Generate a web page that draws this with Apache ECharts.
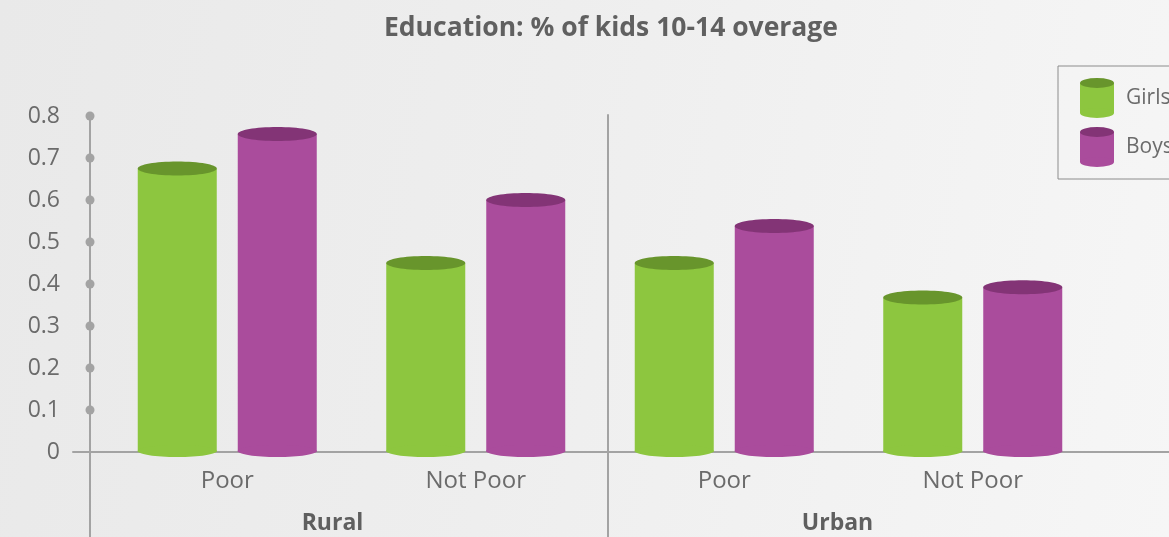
<!DOCTYPE html>
<html><head><meta charset="utf-8">
<script src="https://cdn.jsdelivr.net/npm/echarts@6/dist/echarts.min.js"></script>
<style>
html,body{margin:0;padding:0;}
#c{width:1169px;height:537px;background:linear-gradient(100deg,#e9e9e9 0%,#eeeeee 45%,#f6f6f6 100%);}
</style>
</head><body><div id="c"></div>
<script>
const chartTitle = 'Education: % of kids 10-14 overage';
const categories = ['Poor', 'Not Poor', 'Poor', 'Not Poor'];
const groups = ['Rural', 'Urban'];
const seriesNames = ['Girls', 'Boys'];
const girls = [0.675, 0.45, 0.45, 0.368];
const boys = [0.757, 0.60, 0.538, 0.392];
const yTicks = [0, 0.1, 0.2, 0.3, 0.4, 0.5, 0.6, 0.7, 0.8];

const palette = {
  Girls: { body: '#8dc63f', top: '#68952c' },
  Boys: { body: '#aa4c9c', top: '#833476' }
};
const axisGray = '#a3a3a3';
const textGray = '#6b6b6b';

function iconFor(name) {
  const c = palette[name];
  const s = '<svg xmlns="http://www.w3.org/2000/svg" width="34" height="40" viewBox="0 0 34 40">' +
    '<rect x="0" y="5" width="34" height="30" fill="' + c.body + '"/>' +
    '<ellipse cx="17" cy="35" rx="17" ry="5" fill="' + c.body + '"/>' +
    '<ellipse cx="17" cy="5" rx="17" ry="5" fill="' + c.top + '"/></svg>';
  return 'image://data:image/svg+xml;charset=utf-8,' + encodeURIComponent(s);
}

function cylinder(name, offset) {
  const c = palette[name];
  return function (params, api) {
    const idx = api.value(0), v = api.value(1);
    const top = api.coord([idx, v]);
    const base = api.coord([idx, 0]);
    const w = 79, ry = 7;
    const cx = top[0] + offset;
    return {
      type: 'group',
      children: [
        { type: 'rect', shape: { x: cx - w / 2, y: top[1], width: w, height: base[1] - top[1] }, style: { fill: c.body } },
        { type: 'ellipse', shape: { cx: cx, cy: base[1] - 1, rx: w / 2, ry: 6 }, style: { fill: c.body } },
        { type: 'ellipse', shape: { cx: cx, cy: top[1], rx: w / 2, ry: ry }, style: { fill: c.top } }
      ]
    };
  };
}

const lineStyle = { color: axisGray, width: 2 };
const chart = echarts.init(document.getElementById('c'));
chart.setOption({
  animation: false,
  textStyle: { fontFamily: 'Open Sans' },
  title: {
    text: chartTitle, left: 379, top: 10,
    textStyle: { fontSize: 26.5, fontWeight: 'bold', color: '#606060', fontFamily: 'Open Sans' }
  },
  legend: {
    orient: 'vertical', left: 1058, top: 66,
    padding: [12, 20, 12, 22], itemGap: 9, itemWidth: 34, itemHeight: 40,
    borderColor: '#8c8c8c', borderWidth: 1,
    textStyle: { fontSize: 21, color: textGray, padding: [0, 0, 0, 7] },
    data: seriesNames.map(n => ({ name: n, icon: iconFor(n) }))
  },
  grid: [
    { left: 103, right: 72, top: 116, bottom: 85 },
    { left: 73, right: 0, top: 116, bottom: 85 },
    { left: 90, right: 561, top: 115, bottom: 0 },
    { left: 90, right: 0, top: 116, bottom: 85 },
    { left: 80, right: 79, top: 116, bottom: 85 }
  ],
  xAxis: [
    { gridIndex: 0, type: 'category', data: categories,
      axisLine: { show: false }, axisTick: { show: false },
      axisLabel: { fontSize: 24, color: textGray, margin: 17 } },
    { gridIndex: 1, type: 'value', min: 0, max: 1,
      axisLine: { show: true, onZero: false, lineStyle: lineStyle },
      axisTick: { show: false }, axisLabel: { show: false }, splitLine: { show: false } },
    { gridIndex: 2, type: 'value', min: 0, max: 1, show: false },
    { gridIndex: 3, type: 'value', min: 0, max: 1, show: false },
    { gridIndex: 4, type: 'category', data: groups,
      axisLine: { show: false }, axisTick: { show: false },
      axisLabel: { fontSize: 23, fontWeight: 'bold', color: '#5f5f5f', margin: 60 } }
  ],
  yAxis: [
    { gridIndex: 0, type: 'value', min: 0, max: 0.8, interval: 0.1, offset: 13,
      axisLine: { show: false }, axisTick: { show: false }, splitLine: { show: false },
      axisLabel: { margin: 30, fontSize: 23, color: textGray, formatter: v => String(+(+v).toFixed(1)) } },
    { gridIndex: 1, type: 'value', min: 0, max: 1, show: false },
    { gridIndex: 2, type: 'value', min: 0, max: 1, position: 'left',
      axisLine: { show: true, onZero: false, lineStyle: lineStyle },
      axisTick: { show: false }, axisLabel: { show: false }, splitLine: { show: false } },
    { gridIndex: 2, type: 'value', min: 0, max: 1, position: 'right',
      axisLine: { show: true, onZero: false, lineStyle: lineStyle },
      axisTick: { show: false }, axisLabel: { show: false }, splitLine: { show: false } },
    { gridIndex: 3, type: 'value', min: 0, max: 0.8, show: false },
    { gridIndex: 4, type: 'value', min: 0, max: 1, show: false }
  ],
  series: [
    { name: 'Girls', type: 'custom', xAxisIndex: 0, yAxisIndex: 0,
      itemStyle: { color: palette.Girls.body },
      encode: { x: 0, y: 1 }, data: girls.map((v, i) => [i, v]), renderItem: cylinder('Girls', -50) },
    { name: 'Boys', type: 'custom', xAxisIndex: 0, yAxisIndex: 0,
      itemStyle: { color: palette.Boys.body },
      encode: { x: 0, y: 1 }, data: boys.map((v, i) => [i, v]), renderItem: cylinder('Boys', 50) },
    { name: 'ticks', type: 'scatter', xAxisIndex: 3, yAxisIndex: 4, silent: true, clip: false,
      symbolSize: 9, itemStyle: { color: axisGray, opacity: 1 },
      data: yTicks.filter(v => v > 0).map(v => [0, v]) }
  ]
});
</script>
</body></html>
